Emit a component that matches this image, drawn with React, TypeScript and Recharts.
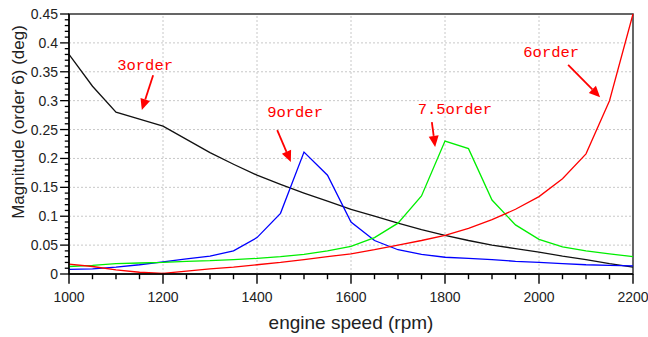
import { LineChart, Line, XAxis, YAxis, ReferenceLine, ReferenceArea, ReferenceDot } from 'recharts'

const rpm = [1000, 1050, 1100, 1150, 1200, 1250, 1300, 1350, 1400, 1450, 1500, 1550, 1600, 1650, 1700, 1750, 1800, 1850, 1900, 1950, 2000, 2050, 2100, 2150, 2200]
const order3 = [0.38, 0.325, 0.28, 0.268, 0.256, 0.233, 0.21, 0.19, 0.171, 0.155, 0.14, 0.126, 0.112, 0.1, 0.088, 0.077, 0.067, 0.058, 0.05, 0.044, 0.038, 0.031, 0.025, 0.018, 0.012]
const order9 = [0.008, 0.009, 0.012, 0.016, 0.021, 0.026, 0.031, 0.04, 0.063, 0.105, 0.211, 0.171, 0.09, 0.058, 0.042, 0.034, 0.029, 0.027, 0.025, 0.022, 0.02, 0.018, 0.016, 0.015, 0.014]
const order75 = [0.013, 0.015, 0.018, 0.019, 0.02, 0.022, 0.023, 0.025, 0.027, 0.03, 0.034, 0.04, 0.048, 0.063, 0.088, 0.135, 0.23, 0.217, 0.128, 0.085, 0.06, 0.047, 0.04, 0.035, 0.03]
const order6 = [0.017, 0.013, 0.007, 0.003, 0.001, 0.005, 0.009, 0.012, 0.016, 0.02, 0.025, 0.03, 0.035, 0.042, 0.05, 0.058, 0.067, 0.079, 0.094, 0.112, 0.134, 0.165, 0.208, 0.3, 0.45]

const xMajor = [1000, 1200, 1400, 1600, 1800, 2000, 2200]
const yMajor = [0, 0.05, 0.1, 0.15, 0.2, 0.25, 0.3, 0.35, 0.4, 0.45]
const yMinor = Array.from({ length: 46 }, (_, i) => i / 100)

// annotation label + arrow (data coords)
const notes = [
  { text: '3order', x: 1162, y: 0.362, from: [1179, 0.344], to: [1155, 0.284] },
  { text: '9order', x: 1481, y: 0.28, from: [1443, 0.249], to: [1472, 0.194] },
  { text: '7.5order', x: 1821, y: 0.286, from: [1772, 0.263], to: [1779, 0.22] },
  { text: '6order', x: 2026, y: 0.384, from: [2062, 0.362], to: [2130, 0.306] },
]

const data = rpm.map((r, i) => ({ rpm: r, o3: order3[i], o9: order9[i], o75: order75[i], o6: order6[i] }))

const font = 'Liberation Sans, Arial, sans-serif'

const renderXTick = (props: any) => {
  const { x, y, payload } = props
  if (!xMajor.includes(payload.value)) return <g />
  return (
    <text x={x} y={y + 23} textAnchor="middle" fontSize={14} fill="#222" fontFamily={font}>
      {payload.value}
    </text>
  )
}

const renderYTick = (props: any) => {
  const { x, y, payload } = props
  if (Math.round(payload.value * 100) % 5 !== 0) return <g />
  return (
    <text x={x - 7} y={y + 5} textAnchor="end" fontSize={14} fill="#222" fontFamily={font}>
      {String(Math.round(payload.value * 100) / 100)}
    </text>
  )
}

const YLabel = (props: any) => {
  const { viewBox } = props
  const cx = viewBox.x + 18
  const cy = viewBox.y + viewBox.height / 2 - 22
  return (
    <text x={cx} y={cy} transform={`rotate(-90 ${cx} ${cy})`} textAnchor="middle" dominantBaseline="central" fontSize={17} fill="#222" fontFamily={font}>
      Magnitude (order 6) (deg)
    </text>
  )
}

const Arrow = (props: any) => {
  const { x1, y1, x2, y2 } = props
  const a = Math.atan2(y2 - y1, x2 - x1)
  const L = 11, W = 5
  const bx = x2 - L * Math.cos(a), by = y2 - L * Math.sin(a)
  const px = -Math.sin(a) * W, py = Math.cos(a) * W
  return (
    <g>
      <line x1={x1} y1={y1} x2={bx} y2={by} stroke="#ff0000" strokeWidth={1.8} />
      <polygon points={`${x2},${y2} ${bx + px},${by + py} ${bx - px},${by - py}`} fill="#ff0000" />
    </g>
  )
}

export default function App() {
  return (
    <div style={{ position: 'absolute', left: 0, top: 0, background: '#fff' }}>
      <LineChart width={648} height={337} data={data} margin={{ top: 14, right: 15, bottom: 0, left: 0 }}>
        {xMajor.slice(1, -1).map(v => (
          <ReferenceLine key={'gx' + v} x={v} stroke="#c8c8c8" strokeDasharray="2 2" />
        ))}
        {yMajor.slice(1, -1).map(v => (
          <ReferenceLine key={'gy' + v} y={v} stroke="#c8c8c8" strokeDasharray="2 2" />
        ))}
        {/* tick marks below / left of the axes, major longer than minor */}
        {rpm.map(v => (
          <ReferenceLine
            key={'tx' + v}
            ifOverflow="visible"
            segment={[{ x: v, y: 0 }, { x: v, y: xMajor.includes(v) ? -0.017 : -0.009 }]}
            stroke="#000"
            strokeWidth={1.4}
          />
        ))}
        {yMinor.map(v => (
          <ReferenceLine
            key={'ty' + v}
            ifOverflow="visible"
            segment={[{ x: 1000, y: v }, { x: Math.round(v * 100) % 5 === 0 ? 981 : 991, y: v }]}
            stroke="#000"
            strokeWidth={1.3}
          />
        ))}
        <XAxis
          dataKey="rpm"
          type="number"
          domain={[1000, 2200]}
          ticks={rpm}
          tick={renderXTick}
          tickLine={false}
          tickSize={5}
          tickMargin={0}
          interval={0}
          height={63}
          axisLine={{ stroke: '#000', strokeWidth: 1.5 }}
          label={{ value: 'engine speed (rpm)', position: 'insideBottom', offset: 8, fontSize: 19, fill: '#222', fontFamily: font }}
        />
        <YAxis
          type="number"
          domain={[0, 0.45]}
          ticks={yMinor}
          tick={renderYTick}
          tickLine={false}
          tickSize={4}
          tickMargin={0}
          interval={0}
          width={69}
          axisLine={{ stroke: '#000', strokeWidth: 1.5 }}
          label={<YLabel />}
        />
        <ReferenceArea x1={1000} x2={2200} y1={0} y2={0.45} fill="none" stroke="#333" strokeWidth={1.5} />
        <Line type="linear" dataKey="o3" stroke="#111" strokeWidth={1.3} dot={false} isAnimationActive={false} />
        <Line type="linear" dataKey="o9" stroke="#0000ff" strokeWidth={1.3} dot={false} isAnimationActive={false} />
        <Line type="linear" dataKey="o75" stroke="#00ee00" strokeWidth={1.3} dot={false} isAnimationActive={false} />
        <Line type="linear" dataKey="o6" stroke="#ff0000" strokeWidth={1.3} dot={false} isAnimationActive={false} />
        {notes.map(n => (
          <ReferenceLine
            key={'a' + n.text}
            segment={[{ x: n.from[0], y: n.from[1] }, { x: n.to[0], y: n.to[1] }]}
            shape={<Arrow />}
          />
        ))}
        {notes.map(n => (
          <ReferenceDot
            key={'t' + n.text}
            x={n.x}
            y={n.y}
            r={0}
            shape={(p: any) => (
              <text x={p.cx} y={p.cy + 5} textAnchor="middle" fontSize={15.5} fill="#ff0000" fontFamily="Liberation Mono, Courier New, monospace">
                {n.text}
              </text>
            )}
          />
        ))}
      </LineChart>
    </div>
  )
}
